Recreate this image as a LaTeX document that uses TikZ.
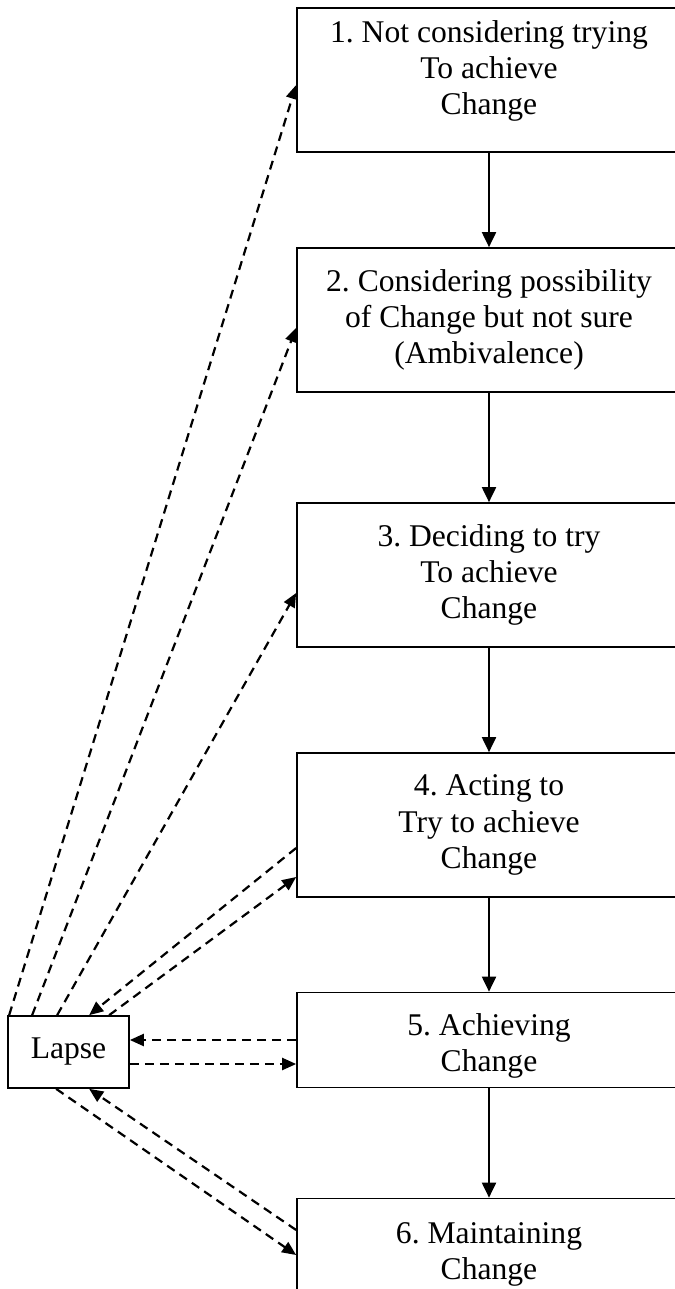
\documentclass[tikz,border=0pt]{standalone}
\usepackage{fontspec}
\setmainfont{Liberation Serif}
\usetikzlibrary{arrows.meta}
\frenchspacing
\begin{document}
\begin{tikzpicture}
[x=1pt,y=-1pt,
 every node/.style=
   {rectangle,draw=black,line width=1.7pt,align=center,inner sep=0pt,
    font=\fontsize{31.6}{36.3}\selectfont},
 stage/.style={minimum width=384pt,minimum height=144pt},
 flow/.style={line width=2pt,-{Triangle[length=15pt,width=14pt]}},
 lapseline/.style={line width=2.2pt,dash pattern=on 9pt off 6pt,
   -{Triangle[length=14pt,width=12pt]}}]
\useasboundingbox (0,0) rectangle (674,1289);
\node [stage] (s1) at (489,80) {1. Not considering trying\\To achieve\\Change\rule[-25pt]{0pt}{25pt}};
\node [stage] (s2) at (489,320) {2. Considering possibility\\of Change but not sure\\(Ambivalence)};
\node [stage] (s3) at (489,575) {3. Deciding to try\\To achieve\\Change};
\node [stage] (s4) at (489,825) {4. Acting to\\Try to achieve\\Change};
\node [stage,minimum height=95pt] (s5) at (489,1040) {\rule{0pt}{34pt}5. Achieving\\Change};
\node [stage,minimum height=95pt] (s6) at (489,1246) {\rule{0pt}{38pt}6. Maintaining\\Change};
\node [minimum width=121pt,minimum height=72pt] (lapse) at (68.5,1052) {Lapse};
\draw [flow] (s1) -- (s2);
\draw [flow] (s2) -- (s3);
\draw [flow] (s3) -- (s4);
\draw [flow] (s4) -- (s5);
\draw [flow] (s5) -- (s6);
\draw [lapseline] ([xshift=2pt]lapse.north west) -- ([yshift=-5pt]s1.west);
\draw [lapseline] ([xshift=25pt]lapse.north west) -- ([yshift=-8pt]s2.west);
\draw [lapseline] ([xshift=50pt]lapse.north west) -- ([yshift=-18pt]s3.west);
\draw [lapseline] ([yshift=-23pt]s4.west) -- ([xshift=82pt]lapse.north west);
\draw [lapseline] ([xshift=102pt]lapse.north west) -- ([yshift=-52pt]s4.west);
\draw [lapseline] (s5.west) -- ([yshift=12pt]lapse.east);
\draw [lapseline] ([yshift=-12pt]lapse.east) -- ([yshift=-24pt]s5.west);
\draw [lapseline] ([yshift=16pt]s6.west) -- ([xshift=82pt]lapse.south west);
\draw [lapseline] ([xshift=49pt]lapse.south west) -- ([yshift=-9pt]s6.west);
\end{tikzpicture}
\end{document}
